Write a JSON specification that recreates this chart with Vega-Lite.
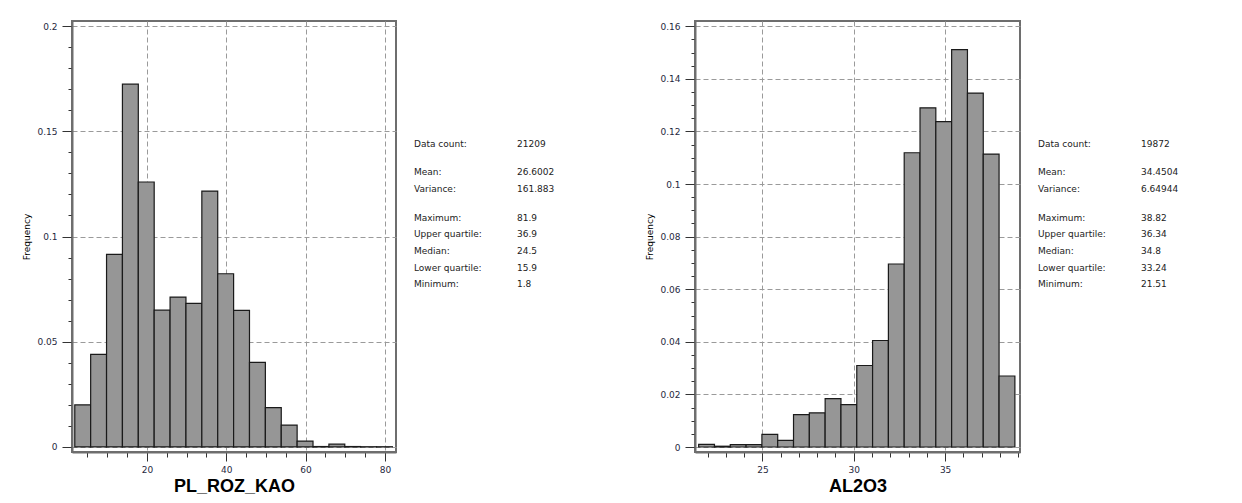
{
  "$schema": "https://vega.github.io/schema/vega-lite/v6.json",
  "background": "white",
  "padding": {"left": 21, "top": 20, "right": 0, "bottom": 0},
  "bounds": "flush",
  "spacing": 18,
  "config": {
    "view": {"stroke": "#6e6e6e", "strokeWidth": 2},
    "axis": {
      "domainColor": "#6e6e6e",
      "domainWidth": 2,
      "ticks": true,
      "tickColor": "#333333",
      "tickWidth": 1,
      "labelFont": "DejaVu Sans",
      "labelFontSize": 9,
      "labelColor": "#1f2940",
      "labelOverlap": false,
      "labelFlush": false,
      "gridColor": "#9a9a9a",
      "gridDash": [5, 3],
      "gridWidth": 1
    }
  },
  "datasets": {
    "kao": [
      {"bin_start": 1.8, "bin_end": 5.805, "frequency": 0.020},
      {"bin_start": 5.805, "bin_end": 9.81, "frequency": 0.044},
      {"bin_start": 9.81, "bin_end": 13.815, "frequency": 0.0915},
      {"bin_start": 13.815, "bin_end": 17.82, "frequency": 0.1724},
      {"bin_start": 17.82, "bin_end": 21.825, "frequency": 0.1259},
      {"bin_start": 21.825, "bin_end": 25.83, "frequency": 0.065},
      {"bin_start": 25.83, "bin_end": 29.835, "frequency": 0.0712},
      {"bin_start": 29.835, "bin_end": 33.84, "frequency": 0.0682},
      {"bin_start": 33.84, "bin_end": 37.845, "frequency": 0.1216},
      {"bin_start": 37.845, "bin_end": 41.85, "frequency": 0.0823},
      {"bin_start": 41.85, "bin_end": 45.855, "frequency": 0.0649},
      {"bin_start": 45.855, "bin_end": 49.86, "frequency": 0.0402},
      {"bin_start": 49.86, "bin_end": 53.865, "frequency": 0.0187},
      {"bin_start": 53.865, "bin_end": 57.87, "frequency": 0.0104},
      {"bin_start": 57.87, "bin_end": 61.875, "frequency": 0.0028},
      {"bin_start": 61.875, "bin_end": 65.88, "frequency": 0.0002},
      {"bin_start": 65.88, "bin_end": 69.885, "frequency": 0.0013},
      {"bin_start": 69.885, "bin_end": 73.89, "frequency": 0.0002},
      {"bin_start": 73.89, "bin_end": 77.895, "frequency": 0.0001},
      {"bin_start": 77.895, "bin_end": 81.9, "frequency": 0.0001}
    ],
    "al": [
      {"bin_start": 21.51, "bin_end": 22.3755, "frequency": 0.0010},
      {"bin_start": 22.3755, "bin_end": 23.241, "frequency": 0.0003},
      {"bin_start": 23.241, "bin_end": 24.1065, "frequency": 0.0009},
      {"bin_start": 24.1065, "bin_end": 24.972, "frequency": 0.0009},
      {"bin_start": 24.972, "bin_end": 25.8375, "frequency": 0.0048},
      {"bin_start": 25.8375, "bin_end": 26.703, "frequency": 0.0025},
      {"bin_start": 26.703, "bin_end": 27.5685, "frequency": 0.0123},
      {"bin_start": 27.5685, "bin_end": 28.434, "frequency": 0.0130},
      {"bin_start": 28.434, "bin_end": 29.2995, "frequency": 0.0184},
      {"bin_start": 29.2995, "bin_end": 30.165, "frequency": 0.0161},
      {"bin_start": 30.165, "bin_end": 31.0305, "frequency": 0.0310},
      {"bin_start": 31.0305, "bin_end": 31.896, "frequency": 0.0405},
      {"bin_start": 31.896, "bin_end": 32.7615, "frequency": 0.0696},
      {"bin_start": 32.7615, "bin_end": 33.627, "frequency": 0.1119},
      {"bin_start": 33.627, "bin_end": 34.4925, "frequency": 0.1290},
      {"bin_start": 34.4925, "bin_end": 35.358, "frequency": 0.1237},
      {"bin_start": 35.358, "bin_end": 36.2235, "frequency": 0.1511},
      {"bin_start": 36.2235, "bin_end": 37.089, "frequency": 0.1346},
      {"bin_start": 37.089, "bin_end": 37.9545, "frequency": 0.1114},
      {"bin_start": 37.9545, "bin_end": 38.82, "frequency": 0.0270}
    ],
    "kaoStats": [
      {"stat": "Data count:", "value": "21209", "line": 7.36},
      {"stat": "Mean:", "value": "26.6002", "line": 9.06},
      {"stat": "Variance:", "value": "161.883", "line": 10.06},
      {"stat": "Maximum:", "value": "81.9", "line": 11.8},
      {"stat": "Upper quartile:", "value": "36.9", "line": 12.8},
      {"stat": "Median:", "value": "24.5", "line": 13.8},
      {"stat": "Lower quartile:", "value": "15.9", "line": 14.8},
      {"stat": "Minimum:", "value": "1.8", "line": 15.8}
    ],
    "alStats": [
      {"stat": "Data count:", "value": "19872", "line": 7.36},
      {"stat": "Mean:", "value": "34.4504", "line": 9.06},
      {"stat": "Variance:", "value": "6.64944", "line": 10.06},
      {"stat": "Maximum:", "value": "38.82", "line": 11.8},
      {"stat": "Upper quartile:", "value": "36.34", "line": 12.8},
      {"stat": "Median:", "value": "34.8", "line": 13.8},
      {"stat": "Lower quartile:", "value": "33.24", "line": 14.8},
      {"stat": "Minimum:", "value": "21.51", "line": 15.8}
    ]
  },
  "hconcat": [
    {
      "width": 324,
      "height": 431,
      "data": {"name": "kao"},
      "layer": [
        {
          "mark": {"type": "bar", "opacity": 0},
          "encoding": {
            "x": {
              "field": "bin_start", "type": "quantitative", "title": null,
              "scale": {"domain": [1.1, 82.8], "nice": false, "zero": false},
              "axis": {"orient": "bottom", "values": [5, 10, 15, 25, 30, 35, 45, 50, 55, 65, 70, 75], "labels": false, "grid": false, "domain": false, "tickSize": 5, "title": null}
            },
            "x2": {"field": "bin_end"},
            "y": {
              "field": "frequency", "type": "quantitative", "title": null,
              "scale": {"domain": [-0.0024, 0.2024], "nice": false, "zero": false},
              "axis": {"orient": "left", "values": [0.01, 0.02, 0.03, 0.04, 0.06, 0.07, 0.08, 0.09, 0.11, 0.12, 0.13, 0.14, 0.16, 0.17, 0.18, 0.19], "labels": false, "grid": false, "domain": false, "tickSize": 4, "title": null}
            },
            "y2": {"datum": 0}
          }
        },
        {
          "mark": {"type": "bar", "fill": "#969696", "stroke": "#1a1a1a", "strokeWidth": 1.2},
          "encoding": {
            "x": {
              "field": "bin_start", "type": "quantitative", "title": "PL_ROZ_KAO",
              "axis": {
                "orient": "bottom",
                "values": [20, 40, 60, 80],
                "format": "d",
                "tickSize": 9,
                "grid": true,
                "labelPadding": 4,
                "titleFont": "Liberation Sans", "titleFontSize": 18, "titleFontWeight": "bold", "titleColor": "black", "titlePadding": 3
              }
            },
            "x2": {"field": "bin_end"},
            "y": {
              "field": "frequency", "type": "quantitative", "title": "Frequency",
              "axis": {
                "orient": "left",
                "values": [0, 0.05, 0.1, 0.15, 0.2],
                "format": "~g",
                "tickSize": 10,
                "grid": true,
                "labelPadding": 5,
                "titleFont": "DejaVu Sans", "titleFontSize": 9, "titleFontWeight": "normal", "titleColor": "black", "titlePadding": 5
              }
            },
            "y2": {"datum": 0}
          }
        }
      ],
      "resolve": {"axis": {"x": "independent", "y": "independent"}}
    },
    {
      "width": 263,
      "height": 431,
      "view": {"stroke": null},
      "data": {"name": "kaoStats"},
      "encoding": {
        "y": {"field": "line", "type": "quantitative", "scale": {"domain": [0, 25.86], "reverse": true, "nice": false, "zero": false}, "axis": null}
      },
      "layer": [
        {
          "mark": {"type": "text", "align": "left", "baseline": "middle", "font": "DejaVu Sans", "fontSize": 9, "color": "#222222"},
          "encoding": {
            "x": {"datum": 0, "type": "quantitative", "scale": {"domain": [0, 2.553], "nice": false, "zero": false}, "axis": null},
            "text": {"field": "stat"}
          }
        },
        {
          "mark": {"type": "text", "align": "left", "baseline": "middle", "font": "DejaVu Sans", "fontSize": 9, "color": "#222222"},
          "encoding": {
            "x": {"datum": 1, "type": "quantitative"},
            "text": {"field": "value"}
          }
        }
      ]
    },
    {
      "width": 325,
      "height": 431,
      "data": {"name": "al"},
      "layer": [
        {
          "mark": {"type": "bar", "opacity": 0},
          "encoding": {
            "x": {
              "field": "bin_start", "type": "quantitative", "title": null,
              "scale": {"domain": [21.31, 39.1], "nice": false, "zero": false},
              "axis": {"orient": "bottom", "values": [22, 23, 24, 26, 27, 28, 29, 31, 32, 33, 34, 36, 37, 38, 39], "labels": false, "grid": false, "domain": false, "tickSize": 5, "title": null}
            },
            "x2": {"field": "bin_end"},
            "y": {
              "field": "frequency", "type": "quantitative", "title": null,
              "scale": {"domain": [-0.0019, 0.162], "nice": false, "zero": false},
              "axis": {"orient": "left", "values": [0.005, 0.01, 0.015, 0.025, 0.03, 0.035, 0.045, 0.05, 0.055, 0.065, 0.07, 0.075, 0.085, 0.09, 0.095, 0.105, 0.11, 0.115, 0.125, 0.13, 0.135, 0.145, 0.15, 0.155], "labels": false, "grid": false, "domain": false, "tickSize": 4, "title": null}
            },
            "y2": {"datum": 0}
          }
        },
        {
          "mark": {"type": "bar", "fill": "#969696", "stroke": "#1a1a1a", "strokeWidth": 1.2},
          "encoding": {
            "x": {
              "field": "bin_start", "type": "quantitative", "title": "AL2O3",
              "axis": {
                "orient": "bottom",
                "values": [25, 30, 35],
                "format": "d",
                "tickSize": 9,
                "grid": true,
                "labelPadding": 4,
                "titleFont": "Liberation Sans", "titleFontSize": 18, "titleFontWeight": "bold", "titleColor": "black", "titlePadding": 3
              }
            },
            "x2": {"field": "bin_end"},
            "y": {
              "field": "frequency", "type": "quantitative", "title": "Frequency",
              "axis": {
                "orient": "left",
                "values": [0, 0.02, 0.04, 0.06, 0.08, 0.1, 0.12, 0.14, 0.16],
                "format": "~g",
                "tickSize": 10,
                "grid": true,
                "labelPadding": 5,
                "titleFont": "DejaVu Sans", "titleFontSize": 9, "titleFontWeight": "normal", "titleColor": "black", "titlePadding": 5
              }
            },
            "y2": {"datum": 0}
          }
        }
      ],
      "resolve": {"axis": {"x": "independent", "y": "independent"}}
    },
    {
      "width": 190,
      "height": 431,
      "view": {"stroke": null},
      "data": {"name": "alStats"},
      "encoding": {
        "y": {"field": "line", "type": "quantitative", "scale": {"domain": [0, 25.86], "reverse": true, "nice": false, "zero": false}, "axis": null}
      },
      "layer": [
        {
          "mark": {"type": "text", "align": "left", "baseline": "middle", "font": "DejaVu Sans", "fontSize": 9, "color": "#222222"},
          "encoding": {
            "x": {"datum": 0, "type": "quantitative", "scale": {"domain": [0, 1.845], "nice": false, "zero": false}, "axis": null},
            "text": {"field": "stat"}
          }
        },
        {
          "mark": {"type": "text", "align": "left", "baseline": "middle", "font": "DejaVu Sans", "fontSize": 9, "color": "#222222"},
          "encoding": {
            "x": {"datum": 1, "type": "quantitative"},
            "text": {"field": "value"}
          }
        }
      ]
    }
  ]
}
